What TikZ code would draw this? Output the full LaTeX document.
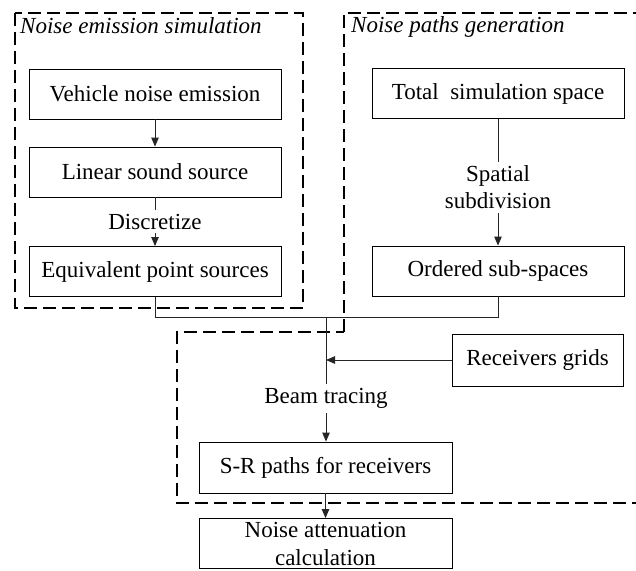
\documentclass[tikz,border=0pt]{standalone}
\usepackage{fontspec}
\setmainfont{Liberation Serif}
\usetikzlibrary{arrows.meta}
\begin{document}
\begin{tikzpicture}[x=1pt,y=-1pt,
  txt/.style={font=\fontsize{23}{26.5}\selectfont},
  box/.style={txt, draw, line width=0.9pt, minimum width=252pt, minimum height=50pt,
              inner sep=0pt, align=center},
  lbl/.style={txt, fill=white, inner sep=4pt, align=center},
  conn/.style={line width=0.9pt, draw=black!85},
  arr/.style={conn, -{Triangle[length=9pt,width=7.5pt]}},
  group/.style={dash pattern=on 13pt off 6pt, line width=1.8pt},
  title/.style={txt, font=\fontsize{23}{26.5}\selectfont\itshape, inner sep=0pt, anchor=base west}]
\useasboundingbox (0,0) rectangle (636,570);
\clip (0,0) rectangle (636,570);

% group frames
\draw[group] (15,13) rectangle (303,308);
\draw[group] (344,332) -- (344,13) -- (660,13) -- (660,503) -- (177,503) -- (177,332) -- cycle;
\node[title] (tleft) at (20,33) {Noise emission simulation};
\node[title] (tright) at (351,32) {Noise paths generation};

% process boxes
\node[box] (veh) at (155,94) {Vehicle noise emission};
\node[box] (lin) at (155,172) {Linear sound source};
\node[box] (eq)  at (155,271.5) {Equivalent point sources};
\node[box] (tot) at (498,93.5) {Total\ \ simulation space};
\node[box] (ord) at (498,271) {Ordered sub-spaces};
\node[box, minimum width=171pt, minimum height=52pt] (rec) at (537.5,360) {Receivers grids};
\node[box, minimum width=253pt, minimum height=51pt] (sr) at (325.5,467.5) {S-R paths for receivers};
\node[box, minimum width=253pt, minimum height=50pt, font=\fontsize{23}{28}\selectfont] (att) at (325.5,543.5) {Noise attenuation\\calculation};

% connectors
\draw[arr] (veh) -- (lin);
\draw[arr] (lin) -- node[lbl] (disc) {Discretize} (eq);
\draw[arr] (tot) -- node[lbl, pos=0.54] (spat) {Spatial\\subdivision} (ord);
\coordinate (join) at (326,317);
\draw[conn] (eq.south) |- (join);
\draw[conn] (ord.south) |- (join);
\draw[arr] (join) -- node[lbl, pos=0.655] (beam) {Beam tracing} (join |- sr.north);
\draw[arr] (rec.west) -- (join |- rec.west);
\draw[arr] (sr) -- (att);
\end{tikzpicture}
\end{document}
